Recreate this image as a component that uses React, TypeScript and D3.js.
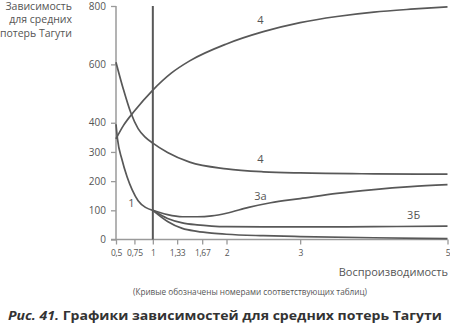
import * as d3 from "d3";
import { useEffect, useRef } from "react";

// x values (воспроизводимость) and y values for each curve
const xTicks = [0.5, 0.75, 1, 1.33, 1.67, 2, 3, 5];
const xTickLabels = ["0,5", "0,75", "1", "1,33", "1,67", "2", "3", "5"];
const yTicks = [0, 100, 200, 300, 400, 600, 800];

const curve4UpX = [0.5, 0.6, 0.75, 1, 1.25, 1.5, 2, 2.5, 3, 3.5, 4, 4.5, 5];
const curve4UpY = [345, 390, 440, 512, 570, 612, 670, 712, 743, 764, 779, 789, 797];

const curve4DownX = [0.5, 0.6, 0.7, 0.8, 0.9, 1, 1.2, 1.5, 2, 2.5, 3, 4, 5];
const curve4DownY = [607, 515, 435, 380, 350, 330, 298, 265, 242, 232, 228, 225, 224];

const curve1X = [0.5, 0.52, 0.58, 0.65, 0.72, 0.8, 0.9, 1];
const curve1Y = [395, 345, 275, 215, 170, 133, 110, 100];

const curve3aX = [1, 1.2, 1.4, 1.6, 1.8, 2, 2.3, 2.6, 3, 3.5, 4, 4.5, 5];
const curve3aY = [100, 85, 78, 78, 81, 90, 110, 126, 140, 158, 171, 181, 188];

const curve3bX = [1, 1.2, 1.4, 1.6, 1.8, 2, 2.5, 3, 4, 5];
const curve3bY = [100, 72, 57, 50, 46, 44, 43, 43, 44, 46];

const curveLowX = [1, 1.2, 1.4, 1.6, 1.8, 2, 2.5, 3, 4, 5];
const curveLowY = [100, 62, 38, 28, 22, 18, 13, 10, 6, 3];

// curve labels, in data coordinates
const labelTexts = ["4", "4", "3а", "3Б", "1"];
const labelX = [2.46, 2.46, 2.46, 4.54, 0.71];
const labelY = [750, 272, 146, 79, 120];

const yTitle = ["Зависимость", "для средних", "потерь Тагути"];

export default function App() {
  const ref = useRef<SVGSVGElement>(null);

  useEffect(() => {
    const svg = d3.select(ref.current);
    svg.selectAll("*").remove();

    const font = "'Open Sans', sans-serif";
    const axisColor = "#9a9a9a";
    const curveColor = "#585858";
    const textColor = "#555";

    const x = d3.scaleLinear().domain([0.5, 5]).range([116, 447.5]);
    const y = d3.scaleLinear().domain([0, 800]).range([239.5, 6]);

    // Y axis
    const yAxis = svg.append("g").attr("transform", `translate(${x(0.5)},0)`);
    yAxis
      .call(d3.axisLeft(y).tickValues(yTicks).tickSize(5).tickPadding(5).tickFormat(d3.format("d")))
      .call((g) => g.select(".domain").remove());
    yAxis.selectAll("line").attr("stroke", axisColor).attr("stroke-width", 1.3);
    yAxis
      .selectAll("text")
      .attr("fill", textColor)
      .style("font-family", font)
      .style("font-size", "10px");
    yAxis
      .append("line")
      .attr("y1", y(800))
      .attr("y2", y(0))
      .attr("stroke", axisColor)
      .attr("stroke-width", 1.5);

    // X axis
    const xAxis = svg.append("g").attr("transform", `translate(0,${y(0)})`);
    xAxis
      .call(
        d3
          .axisBottom(x)
          .tickValues(xTicks)
          .tickSize(5)
          .tickPadding(5)
          .tickFormat((_, i) => xTickLabels[i])
      )
      .call((g) => g.select(".domain").remove());
    xAxis.selectAll("line").attr("stroke", axisColor).attr("stroke-width", 1.3);
    xAxis
      .selectAll("text")
      .attr("fill", textColor)
      .style("font-family", font)
      .style("font-size", "8.5px")
      .style("letter-spacing", "-0.3px");
    xAxis
      .append("line")
      .attr("x1", x(0.5) - 5)
      .attr("x2", x(5))
      .attr("stroke", axisColor)
      .attr("stroke-width", 1.5);

    // vertical line at x = 1
    svg
      .append("line")
      .attr("x1", x(1))
      .attr("x2", x(1))
      .attr("y1", y(800))
      .attr("y2", y(0))
      .attr("stroke", curveColor)
      .attr("stroke-width", 2);

    // curves
    const series = [
      [curve4UpX, curve4UpY],
      [curve4DownX, curve4DownY],
      [curve1X, curve1Y],
      [curve3aX, curve3aY],
      [curve3bX, curve3bY],
      [curveLowX, curveLowY],
    ];
    const line = d3
      .line<[number, number]>()
      .x((d) => x(d[0]))
      .y((d) => y(d[1]))
      .curve(d3.curveMonotoneX);

    series.forEach(([xs, ys]) => {
      svg
        .append("path")
        .datum(xs.map((v, i) => [v, ys[i]] as [number, number]))
        .attr("d", line)
        .attr("fill", "none")
        .attr("stroke", curveColor)
        .attr("stroke-width", 1.7);
    });

    // curve labels
    svg
      .selectAll(".curve-label")
      .data(labelTexts)
      .enter()
      .append("text")
      .attr("x", (_, i) => x(labelX[i]))
      .attr("y", (_, i) => y(labelY[i]))
      .attr("text-anchor", "middle")
      .attr("dominant-baseline", "middle")
      .attr("fill", textColor)
      .style("font-family", font)
      .style("font-size", "11px")
      .text((d) => d);

    // y title
    svg
      .append("g")
      .selectAll("text")
      .data(yTitle)
      .enter()
      .append("text")
      .attr("x", 72)
      .attr("y", (_, i) => 10 + i * 13.4)
      .attr("text-anchor", "end")
      .attr("fill", textColor)
      .style("font-family", font)
      .style("font-size", "10.5px")
      .text((d) => d);

    // x title
    svg
      .append("text")
      .attr("x", 448)
      .attr("y", 275.5)
      .attr("text-anchor", "end")
      .attr("fill", textColor)
      .style("font-family", font)
      .style("font-size", "11px")
      .text("Воспроизводимость");

    svg
      .append("text")
      .attr("x", 133)
      .attr("y", 295)
      .attr("textLength", 234)
      .attr("lengthAdjust", "spacingAndGlyphs")
      .attr("fill", textColor)
      .style("font-family", font)
      .style("font-size", "9px")
      .text("(Кривые обозначены номерами соответствующих таблиц)");

    // caption
    const caption = svg
      .append("text")
      .attr("x", 8)
      .attr("y", 320)
      .attr("textLength", 434)
      .attr("lengthAdjust", "spacingAndGlyphs")
      .attr("fill", "#333")
      .style("font-family", font)
      .style("font-size", "13px")
      .style("font-weight", "bold");
    caption.append("tspan").style("font-style", "italic").text("Рис. 41.");
    caption.append("tspan").text(" Графики зависимостей для средних потерь Тагути");
  }, []);

  return (
    <svg
      ref={ref}
      width={450}
      height={324}
      style={{ position: "absolute", left: 0, top: 0, background: "#fff" }}
    />
  );
}
